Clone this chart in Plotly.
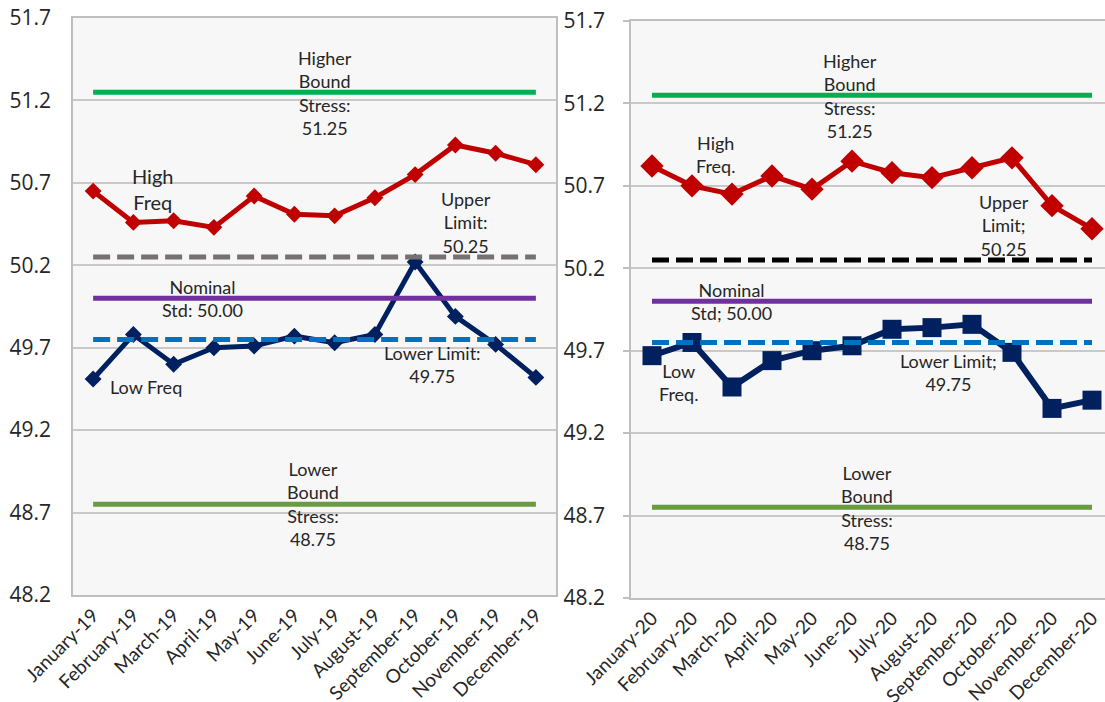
import plotly.graph_objects as go

# ---- data -------------------------------------------------------------
months_2019 = ["January-19", "February-19", "March-19", "April-19", "May-19", "June-19",
               "July-19", "August-19", "September-19", "October-19", "November-19", "December-19"]
months_2020 = ["January-20", "February-20", "March-20", "April-20", "May-20", "June-20",
               "July-20", "August-20", "September-20", "October-20", "November-20", "December-20"]

high_freq_2019 = [50.65, 50.46, 50.47, 50.43, 50.62, 50.51, 50.50, 50.61, 50.75, 50.93, 50.88, 50.81]
low_freq_2019 = [49.51, 49.78, 49.60, 49.70, 49.71, 49.77, 49.73, 49.78, 50.22, 49.89, 49.72, 49.52]
high_freq_2020 = [50.82, 50.70, 50.65, 50.76, 50.68, 50.85, 50.78, 50.75, 50.81, 50.87, 50.58, 50.44]
low_freq_2020 = [49.67, 49.75, 49.48, 49.64, 49.70, 49.73, 49.83, 49.84, 49.86, 49.69, 49.35, 49.40]

HIGHER_BOUND = 51.25
UPPER_LIMIT = 50.25
NOMINAL = 50.00
LOWER_LIMIT = 49.75
LOWER_BOUND = 48.75

y_min, y_max, y_step = 48.2, 51.7, 0.5

# ---- styling ----------------------------------------------------------
W, H = 1105, 702
RED = "#C00000"
NAVY = "#002060"
GREEN_HI = "#00B050"
GREEN_LO = "#6A9B42"
PURPLE = "#7030A0"
BLUE = "#0070C0"
GRID = "#C9C9C9"
BORDER = "#BFBFBF"
TEXT = "#262626"
ANN_FONT = "Lato"
TICK_FONT = "Open Sans"


def px_x(p):
    return p / W


def px_y(p):
    return 1 - p / H


fig = go.Figure()


def add_panel(months, high, low, upper_color, xa, ya, hi_size, lo_symbol, lo_size, lo_width):
    ref = [
        (HIGHER_BOUND, GREEN_HI, "solid", 5),
        (UPPER_LIMIT, upper_color, "17px,7px", 5),
        (NOMINAL, PURPLE, "solid", 5),
        (LOWER_LIMIT, BLUE, "17px,7px", 5),
        (LOWER_BOUND, GREEN_LO, "solid", 5),
    ]
    fig.add_trace(go.Scatter(
        x=months, y=high, mode="lines+markers", xaxis=xa, yaxis=ya,
        line=dict(color=RED, width=5),
        marker=dict(symbol="diamond", size=hi_size, color=RED),
        showlegend=False, hoverinfo="skip"))
    fig.add_trace(go.Scatter(
        x=months, y=low, mode="lines+markers", xaxis=xa, yaxis=ya,
        line=dict(color=NAVY, width=lo_width),
        marker=dict(symbol=lo_symbol, size=lo_size, color=NAVY),
        showlegend=False, hoverinfo="skip"))
    for val, col, dash, w in ref:
        fig.add_trace(go.Scatter(
            x=months, y=[val] * len(months), mode="lines", xaxis=xa, yaxis=ya,
            line=dict(color=col, width=w, dash=dash),
            showlegend=False, hoverinfo="skip"))


add_panel(months_2019, high_freq_2019, low_freq_2019, "#767171", "x", "y", 13, "diamond", 13, 5)
add_panel(months_2020, high_freq_2020, low_freq_2020, "#000000", "x2", "y2", 18, "square", 19, 6)

axis_common = dict(showgrid=False, zeroline=False, showline=True, linecolor=BORDER,
                   linewidth=1.5, tickangle=-45, ticks="", automargin=False,
                   tickfont=dict(family=ANN_FONT, size=19, color=TEXT))
yaxis_common = dict(range=[y_min, y_max], tick0=y_min, dtick=y_step, tickformat=".1f",
                    showgrid=True, gridcolor=GRID, gridwidth=1.5, zeroline=False,
                    showline=True, linecolor=BORDER, linewidth=1.5, automargin=False,
                    tickfont=dict(family=TICK_FONT, size=21, color=TEXT))

fig.update_layout(
    width=W, height=H,
    margin=dict(l=0, r=0, t=0, b=0),
    paper_bgcolor="white",
    plot_bgcolor="#F7F7F7",
    xaxis=dict(domain=[px_x(73), px_x(556)], range=[-0.5, 11.5], mirror=True,
               anchor="y", **axis_common),
    yaxis=dict(domain=[px_y(595), px_y(18)], anchor="x", mirror=True, ticks="",
               ticklabelstandoff=16, **yaxis_common),
    xaxis2=dict(domain=[px_x(631), 1.0], range=[-0.525, 11.325], mirror=True,
                anchor="y2", **axis_common),
    yaxis2=dict(domain=[px_y(598), px_y(21)], anchor="x2", mirror=False, ticks="outside",
                ticklen=6, tickcolor=BORDER, tickwidth=1.5, ticklabelstandoff=14,
                **yaxis_common),
)

labels = [
    # (xref, yref, x, y, text, size)
    ("x", "y", 5.76, 51.245, "Higher<br>Bound<br>Stress:<br>51.25", 18),
    ("x", "y", 1.47, 50.66, "High<br>Freq", 20),
    ("x", "y", 9.26, 50.46, "Upper<br>Limit:<br>50.25", 18),
    ("x", "y", 2.71, 50.0, "Nominal<br>Std: 50.00", 18),
    ("x", "y", 1.31, 49.46, "Low Freq", 18),
    ("x", "y", 8.42, 49.60, "Lower Limit:<br>49.75", 18),
    ("x", "y", 5.47, 48.75, "Lower<br>Bound<br>Stress:<br>48.75", 18),
    ("x2", "y2", 4.95, 51.245, "Higher<br>Bound<br>Stress:<br>51.25", 18),
    ("x2", "y2", 1.58, 50.89, "High<br>Freq.", 18),
    ("x2", "y2", 8.8, 50.46, "Upper<br>Limit;<br>50.25", 18),
    ("x2", "y2", 1.99, 50.0, "Nominal<br>Std; 50.00", 18),
    ("x2", "y2", 0.65, 49.51, "Low<br>Freq.", 18),
    ("x2", "y2", 7.4, 49.57, "Lower Limit;<br>49.75", 18),
    ("x2", "y2", 5.37, 48.745, "Lower<br>Bound<br>Stress:<br>48.75", 18),
]
for xr, yr, x, y, text, size in labels:
    fig.add_annotation(xref=xr, yref=yr, x=x, y=y, text=text, showarrow=False,
                       xanchor="center", yanchor="middle", align="center",
                       font=dict(family=ANN_FONT, size=size, color=TEXT))

fig.write_html("out.html")
